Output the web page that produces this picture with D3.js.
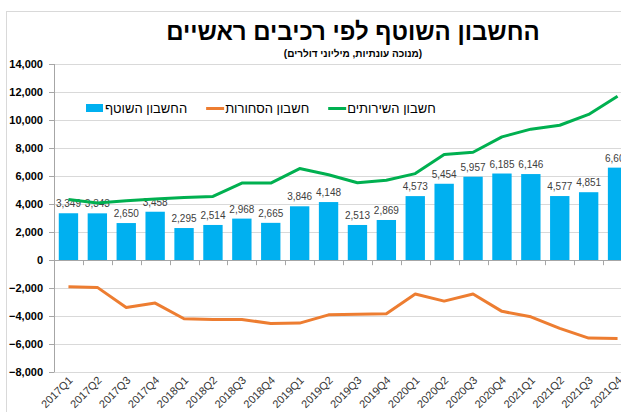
<!DOCTYPE html>
<html>
<head>
<meta charset="utf-8">
<script src="https://cdn.jsdelivr.net/npm/d3@7"></script>
<style>
  body { margin: 0; background: #fff; }
  svg { display: block; font-family: "Liberation Sans", Arial, sans-serif; }
</style>
</head>
<body>
<div id="chart"></div>
<script>
const WIDTH = 621;
const HEIGHT = 412;

// נתונים, מיליוני דולרים
const quarters = ["2017Q1", "2017Q2", "2017Q3", "2017Q4", "2018Q1", "2018Q2", "2018Q3", "2018Q4",
  "2019Q1", "2019Q2", "2019Q3", "2019Q4", "2020Q1", "2020Q2", "2020Q3", "2020Q4",
  "2021Q1", "2021Q2", "2021Q3", "2021Q4"];
const currentAccount = [3349, 3343, 2650, 3458, 2295, 2514, 2968, 2665, 3846, 4148,
  2513, 2869, 4573, 5454, 5957, 6185, 6146, 4577, 4851, 6605];
const goods = [-1890, -1940, -3370, -3060, -4180, -4240, -4230, -4510, -4490, -3900,
  -3860, -3820, -2410, -2920, -2410, -3650, -4040, -4870, -5560, -5580];
const services = [4330, 4080, 4240, 4360, 4480, 4550, 5500, 5500, 6540, 6100,
  5530, 5700, 6180, 7540, 7700, 8800, 9350, 9630, 10400, 11700];
const yTicks = [14000, 12000, 10000, 8000, 6000, 4000, 2000, 0, -2000, -4000, -6000, -8000];

const BLUE = "#00b0f0";
const ORANGE = "#ed7d31";
const GREEN = "#00b050";

const svg = d3.select("#chart")
  .append("svg")
  .attr("width", WIDTH)
  .attr("height", HEIGHT);

// מסגרת
svg.append("rect")
  .attr("x", 6.5).attr("y", 11.5)
  .attr("width", WIDTH).attr("height", HEIGHT)
  .attr("fill", "none")
  .attr("stroke", "#d9d9d9");

const x = d3.scaleBand()
  .domain(quarters)
  .range([54, 632])
  .paddingInner(0.33)
  .paddingOuter(0.165);

const y = d3.scaleLinear()
  .domain([-8000, 14000])
  .range([372.3, 64]);

const step = x.step();
const x0 = x.range()[0];

// קווי רשת
svg.append("g")
  .selectAll("line")
  .data(yTicks.filter(d => d !== 0))
  .join("line")
  .attr("x1", x0).attr("x2", WIDTH)
  .attr("y1", d => Math.round(y(d)) + 0.5)
  .attr("y2", d => Math.round(y(d)) + 0.5)
  .attr("stroke", "#d9d9d9");

// ציר y
const yAxis = svg.append("g");
yAxis.append("line")
  .attr("x1", x0 + 0.5).attr("x2", x0 + 0.5)
  .attr("y1", y(14000)).attr("y2", y(-8000))
  .attr("stroke", "#a6a6a6");
yAxis.selectAll(".tick")
  .data(yTicks)
  .join("line")
  .attr("x1", x0 - 5).attr("x2", x0)
  .attr("y1", d => Math.round(y(d)) + 0.5)
  .attr("y2", d => Math.round(y(d)) + 0.5)
  .attr("stroke", "#a6a6a6");
yAxis.selectAll("text")
  .data(yTicks)
  .join("text")
  .attr("x", 43)
  .attr("y", d => y(d))
  .attr("dy", "0.35em")
  .attr("text-anchor", "end")
  .attr("font-size", 11)
  .attr("font-weight", "bold")
  .attr("fill", "#000")
  .text(d => d3.format(",")(d));

// עמודות
svg.append("g")
  .selectAll("rect")
  .data(currentAccount)
  .join("rect")
  .attr("x", (d, i) => x(quarters[i]))
  .attr("width", x.bandwidth())
  .attr("y", d => y(d))
  .attr("height", d => y(0) - y(d))
  .attr("fill", BLUE);

// תוויות נתונים
svg.append("g")
  .selectAll("text")
  .data(currentAccount)
  .join("text")
  .attr("x", (d, i) => x(quarters[i]) + x.bandwidth() / 2)
  .attr("y", d => y(d) - 6)
  .attr("text-anchor", "middle")
  .attr("font-size", 10)
  .attr("fill", "#404040")
  .text(d => d3.format(",")(d));

// ציר x (בקו האפס)
const xAxis = svg.append("g");
xAxis.append("line")
  .attr("x1", x0).attr("x2", WIDTH)
  .attr("y1", Math.round(y(0)) + 0.5).attr("y2", Math.round(y(0)) + 0.5)
  .attr("stroke", "#a6a6a6");
xAxis.selectAll(".tick")
  .data(d3.range(quarters.length + 1))
  .join("line")
  .attr("x1", i => Math.round(x0 + i * step) + 0.5)
  .attr("x2", i => Math.round(x0 + i * step) + 0.5)
  .attr("y1", y(0)).attr("y2", y(0) + 5)
  .attr("stroke", "#a6a6a6");

// תוויות רבעונים
svg.append("g")
  .selectAll("text")
  .data(quarters)
  .join("text")
  .attr("transform", d => `translate(${x(d) + x.bandwidth() / 2 + 5},381) rotate(-45)`)
  .attr("text-anchor", "end")
  .attr("font-size", 11)
  .attr("fill", "#333")
  .text(d => d);

// קווים
const line = d3.line()
  .x((d, i) => x(quarters[i]) + x.bandwidth() / 2)
  .y(d => y(d));

svg.append("path")
  .datum(goods)
  .attr("d", line)
  .attr("fill", "none")
  .attr("stroke", ORANGE)
  .attr("stroke-width", 3)
  .attr("stroke-linejoin", "round");

svg.append("path")
  .datum(services)
  .attr("d", line)
  .attr("fill", "none")
  .attr("stroke", GREEN)
  .attr("stroke-width", 3)
  .attr("stroke-linejoin", "round");

// כותרת
svg.append("text")
  .attr("x", 353).attr("y", 40)
  .attr("text-anchor", "middle")
  .attr("font-size", 24)
  .attr("font-weight", "bold")
  .attr("fill", "#000")
  .text("החשבון השוטף לפי רכיבים ראשיים");

svg.append("text")
  .attr("x", 353).attr("y", 57)
  .attr("text-anchor", "middle")
  .attr("font-size", 10)
  .attr("font-weight", "bold")
  .attr("fill", "#000")
  .text("(מנוכה עונתיות, מיליוני דולרים)");

// מקרא
const legendItems = [
  { name: "החשבון השוטף", color: BLUE, type: "rect" },
  { name: "חשבון הסחורות", color: ORANGE, type: "line" },
  { name: "חשבון השירותים", color: GREEN, type: "line" }
];
const legend = svg.append("g");
let lx = 86;
legendItems.forEach(item => {
  if (item.type === "rect") {
    legend.append("rect")
      .attr("x", lx).attr("y", 104)
      .attr("width", 17).attr("height", 8)
      .attr("fill", item.color);
  } else {
    legend.append("line")
      .attr("x1", lx).attr("x2", lx + 18)
      .attr("y1", 108.5).attr("y2", 108.5)
      .attr("stroke", item.color)
      .attr("stroke-width", 3);
  }
  const t = legend.append("text")
    .attr("x", lx + 19).attr("y", 113)
    .attr("font-size", 13)
    .attr("fill", "#000")
    .text(item.name);
  lx += 19 + t.node().getComputedTextLength() + 19;
});
</script>
</body>
</html>
